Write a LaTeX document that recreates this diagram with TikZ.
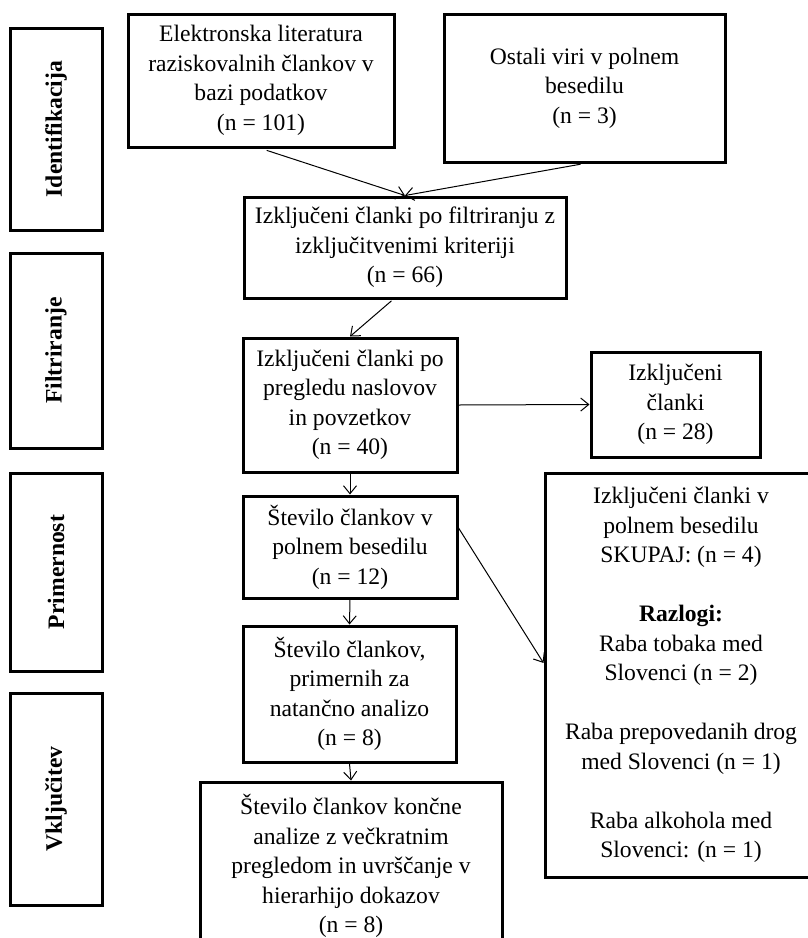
\documentclass[tikz,border=0pt]{standalone}
\usepackage{fontspec}
\setmainfont{Liberation Serif}
\usetikzlibrary{arrows.meta}

\begin{document}
\begin{tikzpicture} [
                x=0.5pt, y=-0.5pt,
                box/.style = {draw, line width=1.5pt, align=center, inner sep=0pt,
                              font=\fontsize{11.8}{14.75}\selectfont},
                phase/.style = {draw, line width=1.5pt, minimum height=46pt, rotate=90,
                                font=\bfseries\fontsize{11.8}{14}\selectfont},
                link/.style = {draw, line width=0.5pt, -{Straight Barb[length=4pt,width=6.5pt]}},
            ]
            \useasboundingbox (0,0) rectangle (808,938);
            % faze na levi strani
            \foreach \pos/\len/\name/\label in {
                    {(56,129)/101pt/identifikacija/Identifikacija},
                    {(56,350.5)/97.5pt/filtriranje/Filtriranje},
                    {(56,572)/99pt/primernost/Primernost},
                    {(56,799)/106pt/vkljucitev/Vključitev}}
                \node[phase, minimum width=\len] (\name) at \pos {\label};
            % okvirji
            \node[box, minimum width=133pt, minimum height=66.5pt] (b1) at (261,80.5)
                {Elektronska literatura\\ raziskovalnih člankov v\\ bazi podatkov\\ (n = 101)};
            \node[box, minimum width=140.5pt, minimum height=74pt] (b2) at (584.5,88)
                {Ostali viri v polnem\\ besedilu\\ (n = 3)};
            \node[box, minimum width=161pt, minimum height=50.5pt] (b3) at (405,247.5)
                {Izključeni članki po filtriranju z\\ izključitvenimi kriteriji\\ (n = 66)};
            \node[box, minimum width=107pt, minimum height=67pt] (b4) at (350,405)
                {Izključeni članki po\\ pregledu naslovov\\ in povzetkov\\ (n = 40)};
            \node[box, minimum width=84.5pt, minimum height=52.5pt] (b5) at (675.5,404.5)
                {Izključeni\\ članki\\ (n = 28)};
            \node[box, minimum width=107pt, minimum height=51pt] (b6) at (350,547)
                {Število člankov v\\ polnem besedilu\\ (n = 12)};
            \node[box, minimum width=136pt, minimum height=202pt] (b7) at (681,675)
                {Izključeni članki v\\ polnem besedilu\\ SKUPAJ: (n = 4)\\[14.75pt]
                 \textbf{Razlogi:}\\ Raba tobaka med\\ Slovenci (n = 2)\\[14.75pt]
                 Raba prepovedanih drog\\ med Slovenci (n = 1)\\[14.75pt]
                 Raba alkohola med\\ Slovenci: (n = 1)};
            \node[box, minimum width=106.5pt, minimum height=68pt] (b8) at (349.5,694)
                {Število člankov,\\ primernih za\\ natančno analizo\\ (n = 8)};
            \node[box, minimum width=151pt, minimum height=84pt] (b9) at (351,866)
                {Število člankov končne\\ analize z večkratnim\\ pregledom in uvrščanje v\\ hierarhijo dokazov\\ (n = 8)};
            % puščice
            \path[link, shorten <=3pt] (b1.south) -- (b3.north);
            \path[link, shorten <=2pt] (b2.south) -- (b3.north);
            \path[link, shorten <=1pt] ([xshift=-6pt]b3.south) -- (b4.north);
            \foreach \source/ \dest in {
                    b4.east/b5.west, b4.south/b6.north, b6.10/b7.175,
                    b6.south/b8.north, b8.south/b9.north}
                \path[link] (\source) -- (\dest);
        \end{tikzpicture}
\end{document}
